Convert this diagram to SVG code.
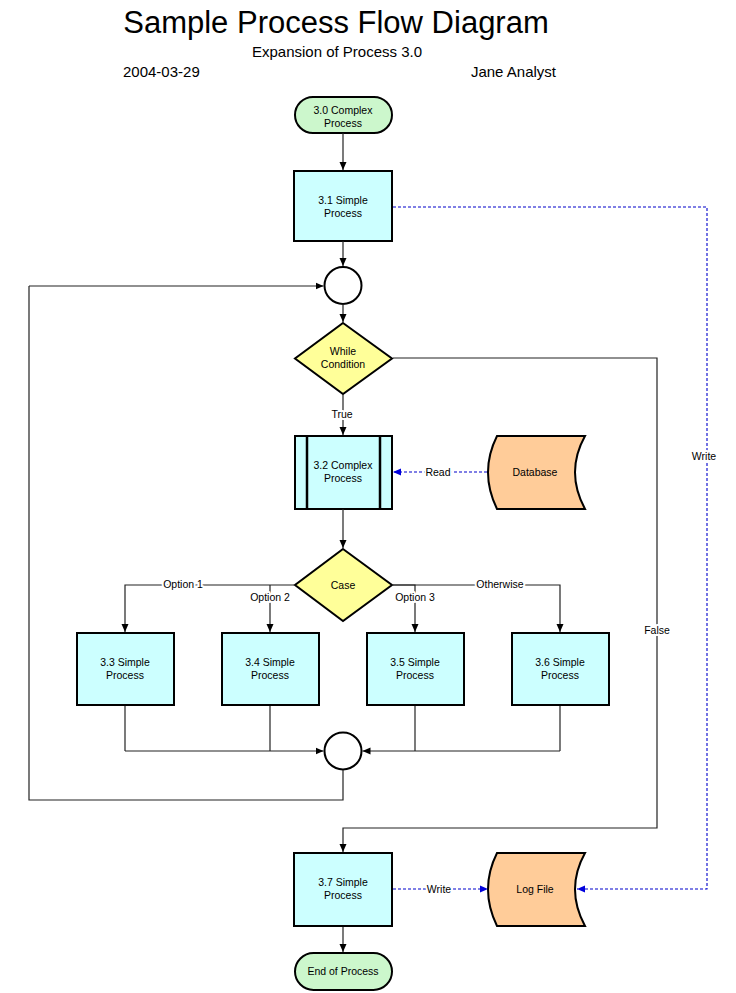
<svg xmlns="http://www.w3.org/2000/svg" width="736" height="993" viewBox="0 0 736 993">
<defs>
<marker id="ah" markerWidth="9" markerHeight="9" refX="8" refY="4.5" orient="auto" markerUnits="userSpaceOnUse"><path d="M0,1 L8,4.5 L0,8 Z" fill="#000"/></marker>
<marker id="ahb" markerWidth="9" markerHeight="9" refX="8" refY="4.5" orient="auto" markerUnits="userSpaceOnUse"><path d="M0,1 L8,4.5 L0,8 Z" fill="#0000dd"/></marker>
</defs>
<style>
text{font-family:"Liberation Sans",Arial,sans-serif;fill:#000}
.t{font-size:10.5px;text-anchor:middle}
.lbl{font-size:10.5px;text-anchor:middle;stroke:#fff;stroke-width:4px;paint-order:stroke;stroke-linejoin:round}
.ln{fill:none;stroke:#222;stroke-width:1.2}
.dl{fill:none;stroke:#0000cc;stroke-width:1.1;stroke-dasharray:3,2}
.proc{fill:#ccffff;stroke:#000;stroke-width:2}
.term{fill:#ccf7cc;stroke:#000;stroke-width:2}
.dec{fill:#ffff99;stroke:#000;stroke-width:2}
.data{fill:#ffcc99;stroke:#000;stroke-width:2}
.jn{fill:#fff;stroke:#000;stroke-width:2}
</style>
<rect width="736" height="993" fill="#fff"/>
<g id="header">
<text x="336" y="33" font-size="31" text-anchor="middle">Sample Process Flow Diagram</text>
<text x="337" y="57" font-size="15" text-anchor="middle">Expansion of Process 3.0</text>
<text x="123" y="77" font-size="15">2004-03-29</text>
<text x="556" y="77" font-size="15" text-anchor="end">Jane Analyst</text>
</g>
<g id="n30"><rect class="term" x="295" y="97" width="97" height="36" rx="18"/><text class="t" x="343" y="114">3.0 Complex</text><text class="t" x="343" y="127">Process</text></g>
<g id="n31"><rect class="proc" x="294" y="171" width="98" height="70"/><text class="t" x="343" y="204">3.1 Simple</text><text class="t" x="343" y="217">Process</text></g>
<g id="j1"><circle class="jn" cx="343" cy="285.5" r="18.5"/></g>
<g id="while"><path class="dec" d="M343,323 L392,358.5 L343,394 L295,358.5 Z"/><text class="t" x="343" y="355">While</text><text class="t" x="343" y="368">Condition</text></g>
<g id="n32"><rect class="proc" x="295" y="436" width="97" height="73"/><line x1="307" y1="436" x2="307" y2="509" stroke="#000" stroke-width="2.5"/><line x1="380" y1="436" x2="380" y2="509" stroke="#000" stroke-width="2.5"/><text class="t" x="343" y="469">3.2 Complex</text><text class="t" x="343" y="482">Process</text></g>
<g id="db"><path class="data" d="M497,436 H585 Q565,472 585,509 H497 Q479,472 497,436 Z"/><text class="t" x="535" y="476">Database</text></g>
<g id="case"><path class="dec" d="M343,549 L392,585 L343,621 L295,585 Z"/><text class="t" x="343" y="589">Case</text></g>
<g id="n33"><rect class="proc" x="77" y="633" width="97" height="72"/><text class="t" x="125" y="666">3.3 Simple</text><text class="t" x="125" y="679">Process</text></g>
<g id="n34"><rect class="proc" x="222" y="633" width="97" height="72"/><text class="t" x="270" y="666">3.4 Simple</text><text class="t" x="270" y="679">Process</text></g>
<g id="n35"><rect class="proc" x="367" y="633" width="97" height="72"/><text class="t" x="415" y="666">3.5 Simple</text><text class="t" x="415" y="679">Process</text></g>
<g id="n36"><rect class="proc" x="512" y="633" width="97" height="72"/><text class="t" x="560" y="666">3.6 Simple</text><text class="t" x="560" y="679">Process</text></g>
<g id="j2"><circle class="jn" cx="343" cy="751" r="18.5"/></g>
<g id="n37"><rect class="proc" x="294" y="853" width="98" height="73"/><text class="t" x="343" y="886">3.7 Simple</text><text class="t" x="343" y="899">Process</text></g>
<g id="log"><path class="data" d="M497,853 H585 Q565,889 585,926 H497 Q479,889 497,853 Z"/><text class="t" x="535" y="893">Log File</text></g>
<g id="end"><rect class="term" x="295" y="953" width="97" height="37" rx="18.5"/><text class="t" x="343" y="975">End of Process</text></g>
<g id="connectors">
<path class="ln" d="M343,133 V170" marker-end="url(#ah)"/>
<path class="ln" d="M343,241 V266" marker-end="url(#ah)"/>
<path class="ln" d="M343,304 V322" marker-end="url(#ah)"/>
<path class="ln" d="M343,394 V435" marker-end="url(#ah)"/>
<path class="ln" d="M343,509 V548" marker-end="url(#ah)"/>
<path class="ln" d="M294,585 H125 V632" marker-end="url(#ah)"/>
<path class="ln" d="M270,585 V632" marker-end="url(#ah)"/>
<path class="ln" d="M393,585 H415 V632" marker-end="url(#ah)"/>
<path class="ln" d="M393,585 H560 V632" marker-end="url(#ah)"/>
<path class="ln" d="M125,706 V751"/>
<path class="ln" d="M125,751 H323.5" marker-end="url(#ah)"/>
<path class="ln" d="M270,706 V751"/>
<path class="ln" d="M415,706 V751"/>
<path class="ln" d="M560,706 V751"/>
<path class="ln" d="M560,751 H362.5" marker-end="url(#ah)"/>
<path class="ln" d="M343,770 V800 H29 V286"/>
<path class="ln" d="M29,286 H323.5" marker-end="url(#ah)"/>
<path class="ln" d="M393,358 H657 V828 H343 V852" marker-end="url(#ah)"/>
<path class="ln" d="M343,927 V952" marker-end="url(#ah)"/>
<path class="dl" d="M487,472 H393" marker-end="url(#ahb)"/>
<path class="dl" d="M393,889 H488" marker-end="url(#ahb)"/>
<path class="dl" d="M393,207 H707 V889 H577" marker-end="url(#ahb)"/>
<text class="lbl" x="342" y="418">True</text>
<text class="lbl" x="183" y="588">Option 1</text>
<text class="lbl" x="270" y="601">Option 2</text>
<text class="lbl" x="415" y="601">Option 3</text>
<text class="lbl" x="500" y="588">Otherwise</text>
<text class="lbl" x="657" y="634">False</text>
<text class="lbl" x="438" y="476">Read</text>
<text class="lbl" x="439" y="893">Write</text>
<text class="lbl" x="704" y="460">Write</text>
</g>
</svg>
